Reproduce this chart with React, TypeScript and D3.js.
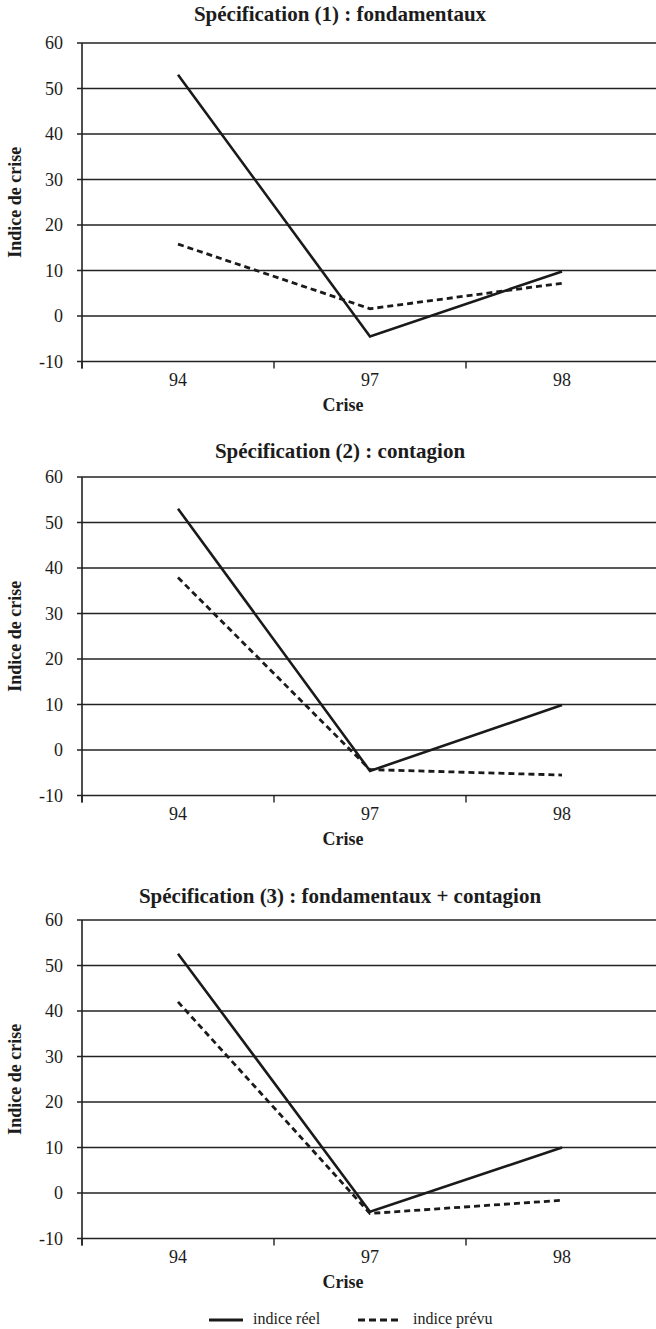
import * as d3 from "d3";

const crises = ["94", "97", "98"];
const yTicks = [-10, 0, 10, 20, 30, 40, 50, 60];

const titles = [
  "Spécification (1) : fondamentaux",
  "Spécification (2) : contagion",
  "Spécification (3) : fondamentaux + contagion",
];

// indice réel / indice prévu, per specification
const reel1 = [53, -4.5, 9.8];
const prevu1 = [15.8, 1.6, 7.2];
const reel2 = [53, -4.6, 9.9];
const prevu2 = [37.9, -4.3, -5.5];
const reel3 = [52.6, -4.1, 10];
const prevu3 = [42, -4.5, -1.6];

const reelSeries = [reel1, reel2, reel3];
const prevuSeries = [prevu1, prevu2, prevu3];

const W = 656;
const H = 1329;
const left = 82;
const bandW = 192;
const plotH = 318.5;
const panelTops = [43, 477, 920];
const titleGaps = [22, 19, 17];
const font = '"Liberation Serif", Tinos, "Times New Roman", Times, "DejaVu Serif", serif';
const ink = "#1c1c1c";

function Panel({ idx }: { idx: number }) {
  const top = panelTops[idx];
  const bottom = top + plotH;
  const x = d3
    .scaleBand<string>()
    .domain(crises)
    .range([left, left + bandW * crises.length]);
  const y = d3.scaleLinear().domain([-10, 60]).range([bottom, top]);
  const line = d3
    .line<number>()
    .x((_, i) => (x(crises[i]) ?? 0) + x.bandwidth() / 2)
    .y((d) => y(d));
  const boundaries = crises.map((c) => x(c) ?? 0).concat([x.range()[1]]);

  return (
    <g>
      <text
        x={340}
        y={top - titleGaps[idx]}
        textAnchor="middle"
        fontSize={21}
        fontWeight="bold"
        fill={ink}
      >
        {titles[idx]}
      </text>
      {yTicks.map((t) => (
        <g key={t}>
          <line
            x1={left - 5}
            x2={W}
            y1={y(t)}
            y2={y(t)}
            stroke="#222"
            strokeWidth={t === -10 ? 1.6 : 1.3}
          />
          <text x={63} y={y(t) + 6} textAnchor="end" fontSize={18} fill={ink}>
            {t}
          </text>
        </g>
      ))}
      <line x1={left} x2={left} y1={top} y2={bottom + 7} stroke="#222" strokeWidth={1.6} />
      {boundaries.map((b, i) => (
        <line key={i} x1={b} x2={b} y1={bottom} y2={bottom + 7} stroke="#222" strokeWidth={1.4} />
      ))}
      {crises.map((c) => (
        <text
          key={c}
          x={(x(c) ?? 0) + x.bandwidth() / 2}
          y={bottom + 24}
          textAnchor="middle"
          fontSize={18}
          fill={ink}
        >
          {c}
        </text>
      ))}
      <text x={343} y={bottom + 49} textAnchor="middle" fontSize={18} fontWeight="bold" fill={ink}>
        Crise
      </text>
      <text
        transform={`translate(21,${(top + bottom) / 2}) rotate(-90)`}
        textAnchor="middle"
        fontSize={18}
        fontWeight="bold"
        fill={ink}
      >
        Indice de crise
      </text>
      <path
        d={line(prevuSeries[idx]) ?? ""}
        fill="none"
        stroke="#1a1a1a"
        strokeWidth={2.8}
        strokeDasharray="6,4"
      />
      <path d={line(reelSeries[idx]) ?? ""} fill="none" stroke="#1a1a1a" strokeWidth={2.6} />
    </g>
  );
}

export default function App() {
  const legendY = 1320;
  return (
    <div style={{ position: "absolute", left: 0, top: 0, background: "#fff" }}>
      <svg
        width={W}
        height={H}
        viewBox={`0 0 ${W} ${H}`}
        style={{ display: "block", fontFamily: font }}
      >
        <rect width={W} height={H} fill="#fff" />
        {titles.map((_, i) => (
          <Panel key={i} idx={i} />
        ))}
        <line x1={209} x2={243} y1={legendY} y2={legendY} stroke="#1a1a1a" strokeWidth={2.8} />
        <text x={253} y={legendY + 4} fontSize={16} fill={ink}>
          indice réel
        </text>
        <line
          x1={358}
          x2={398}
          y1={legendY}
          y2={legendY}
          stroke="#1a1a1a"
          strokeWidth={2.8}
          strokeDasharray="7,4"
        />
        <text x={413} y={legendY + 4} fontSize={16} fill={ink}>
          indice prévu
        </text>
      </svg>
    </div>
  );
}
